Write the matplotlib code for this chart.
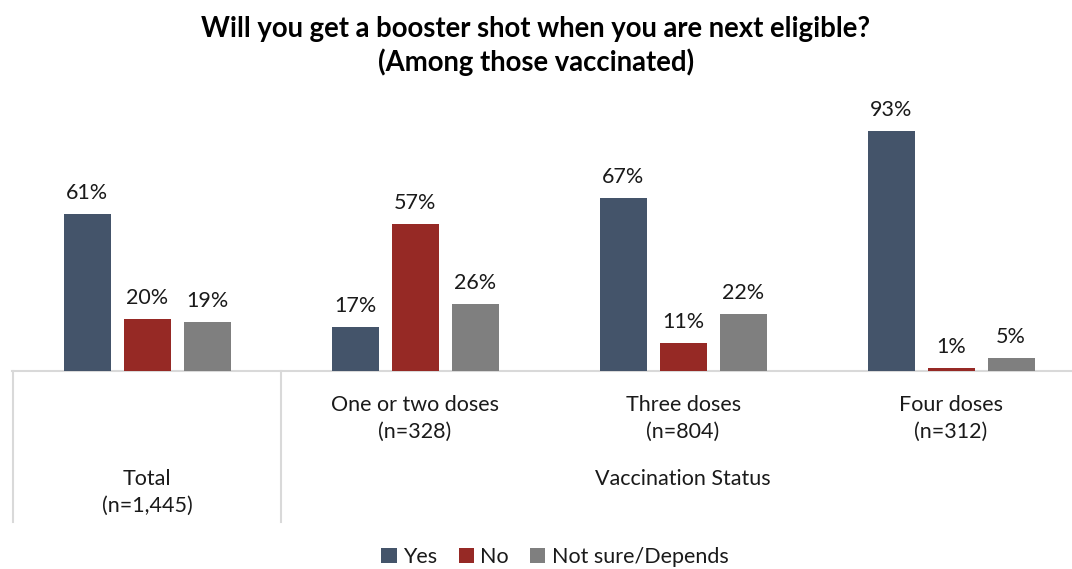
import numpy as np
import matplotlib
matplotlib.use("Agg")
import matplotlib.pyplot as plt

plt.rcParams['font.family'] = ['Lato', 'DejaVu Sans']

# survey answers, percent
groups = ["Total\n(n=1,445)", "One or two doses\n(n=328)",
          "Three doses\n(n=804)", "Four doses\n(n=312)"]
yes = [61, 17, 67, 93]
no = [20, 57, 11, 1]
not_sure = [19, 26, 22, 5]
series_names = ["Yes", "No", "Not sure/Depends"]
colors = ["#44546A", "#962925", "#7F7F7F"]

W, H = 1072, 569
fs = 15.5
fig = plt.figure(figsize=(W / 100, H / 100), dpi=100)
ax = fig.add_axes([12 / W, (H - 371) / H, 1060 / W, 276 / H])

x = np.arange(len(groups))
offset = 60 / 268
width = 47 / 268
for k, vals in enumerate([yes, no, not_sure]):
    bars = ax.bar(x + (k - 1) * offset, vals, width, color=colors[k],
                  label=series_names[k], zorder=2)
    for b, v in zip(bars, vals):
        ax.annotate(f"{v}%", (b.get_x() + b.get_width() / 2, b.get_height()),
                    xytext=(0, 11), textcoords='offset pixels',
                    ha='center', va='bottom', fontsize=fs, color='#1a1a1a')

ax.set_xlim(-0.504, -0.504 + 1060 / 268)
ax.set_ylim(0, 107)
ax.axis('off')

# category axis: base line plus group separators
ax.axhline(0, color='#D9D9D9', lw=1.5, zorder=1, clip_on=False)
for sx in [-0.502, 0.5]:
    ax.plot([sx, sx], [0, -0.547], color='#D9D9D9', lw=1.5,
            transform=ax.get_xaxis_transform(), clip_on=False)

tr = ax.get_xaxis_transform()
ax.text(0, -0.44, groups[0], transform=tr, ha='center', va='center',
        fontsize=fs, linespacing=1.4, color='#1a1a1a')
for i in range(1, 4):
    ax.text(i, -0.172, groups[i], transform=tr, ha='center', va='center',
            fontsize=fs, linespacing=1.4, color='#1a1a1a')
ax.text(2, -0.39, "Vaccination Status", transform=tr, ha='center',
        va='center', fontsize=fs, color='#1a1a1a')

fig.text(0.5, 1 - 46 / H,
         "Will you get a booster shot when you are next eligible?\n(Among those vaccinated)",
         ha='center', va='center', fontsize=19.8, fontweight='bold',
         linespacing=1.3, color='black')

fig.legend(loc='center', bbox_to_anchor=(555 / W, 1 - 557 / H), ncol=3,
           frameon=False, fontsize=fs, handlelength=0.7, handleheight=0.7,
           handletextpad=0.3, columnspacing=1.0, labelcolor='#1a1a1a')

fig.savefig("out.png", dpi=100)
